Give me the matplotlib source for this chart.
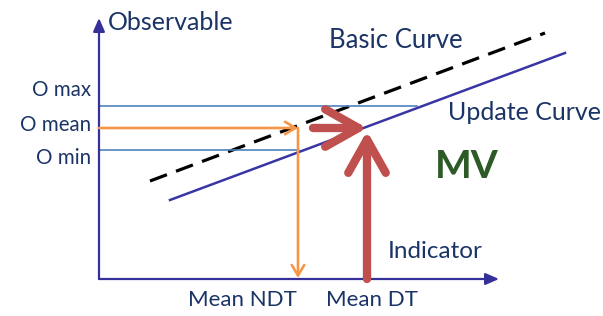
import matplotlib

matplotlib.use("Agg")
import matplotlib.pyplot as plt

plt.rcParams["font.family"] = ["Lato", "DejaVu Sans"]
plt.rcParams["lines.scale_dashes"] = False

# 坐标系：原点在两轴交点，单位约 10 像素
x_axis_end = 40.0
y_axis_end = 26.1

basic_x = [5.1, 44.6]
basic_y = [9.8, 24.6]
update_x = [7.1, 46.6]
update_y = [7.9, 22.6]

o_labels = ["O max", "O mean", "O min"]
o_values = [17.3, 15.1, 12.9]
o_line_end = [31.8, None, 20.0]

mean_ndt = 19.9
mean_dt = 26.8
red_start = 21.4

TEXT = "#1B3466"
AXIS = "#35309A"
THIN = "#4F81BD"
ORANGE = "#F79646"
RED = "#C0504D"
GREEN = "#2D5A27"

fig = plt.figure(figsize=(6.03, 3.16), dpi=100)
ax = fig.add_axes([0, 0, 1, 1])
ax.set_xlim(-9.9, 50.4)
ax.set_ylim(-3.7, 27.9)
ax.axis("off")

# 坐标轴
axis_props = dict(arrowstyle="-|>,head_length=0.8,head_width=0.35", lw=1.6,
                  color=AXIS, shrinkA=0, shrinkB=0)
ax.annotate("", xy=(x_axis_end, 0), xytext=(0, 0), arrowprops=axis_props)
ax.annotate("", xy=(0, y_axis_end), xytext=(0, 0), arrowprops=axis_props)

# 曲线
ax.plot(basic_x, basic_y, color="black", lw=2.3, dashes=(13, 7))
ax.plot(update_x, update_y, color="#3A35A5", lw=1.8)

# O max / O min 细线
for val, end in zip(o_values, o_line_end):
    if end is not None:
        ax.plot([0, end], [val, val], color=THIN, lw=1.2)

# 橙色箭头
o_mean = o_values[1]
orange_props = dict(arrowstyle="->,head_length=0.75,head_width=0.45", lw=1.9,
                    color=ORANGE, shrinkA=0, shrinkB=0)
ax.annotate("", xy=(mean_ndt, o_mean), xytext=(0, o_mean), arrowprops=orange_props)
ax.annotate("", xy=(mean_ndt, 0.1), xytext=(mean_ndt, o_mean), arrowprops=orange_props)

# 红色箭头
red_props = dict(arrowstyle="->,head_length=2.4,head_width=1.35", lw=6,
                 color=RED, shrinkA=0, shrinkB=0, capstyle="round", joinstyle="round")
ax.annotate("", xy=(mean_dt, o_mean), xytext=(red_start, o_mean), arrowprops=red_props)
ax.annotate("", xy=(mean_dt, o_mean - 0.3), xytext=(mean_dt, 0), arrowprops=red_props)

# 文字
ax.text(0.9, 25.7, "Observable", color=TEXT, fontsize=18, va="center", ha="left")
for lab, val, dy in zip(o_labels, o_values, [1.6, 0.3, -0.8]):
    ax.text(-0.8, val + dy, lab, color=TEXT, fontsize=14.8, va="center", ha="right")
ax.text(23.0, 23.9, "Basic Curve", color=TEXT, fontsize=18.5, va="center", ha="left")
ax.text(34.9, 16.7, "Update Curve", color=TEXT, fontsize=18, va="center", ha="left")
ax.text(36.8, 11.3, "MV", color=GREEN, fontsize=28, fontweight="bold", va="center", ha="center")
ax.text(28.9, 2.8, "Indicator", color=TEXT, fontsize=17.5, va="center", ha="left")
ax.text(mean_ndt - 0.1, -2.1, "Mean NDT", color=TEXT, fontsize=16, va="center", ha="right")
ax.text(mean_dt + 0.5, -2.1, "Mean DT", color=TEXT, fontsize=16, va="center", ha="center")

fig.savefig("out.png", dpi=100)
